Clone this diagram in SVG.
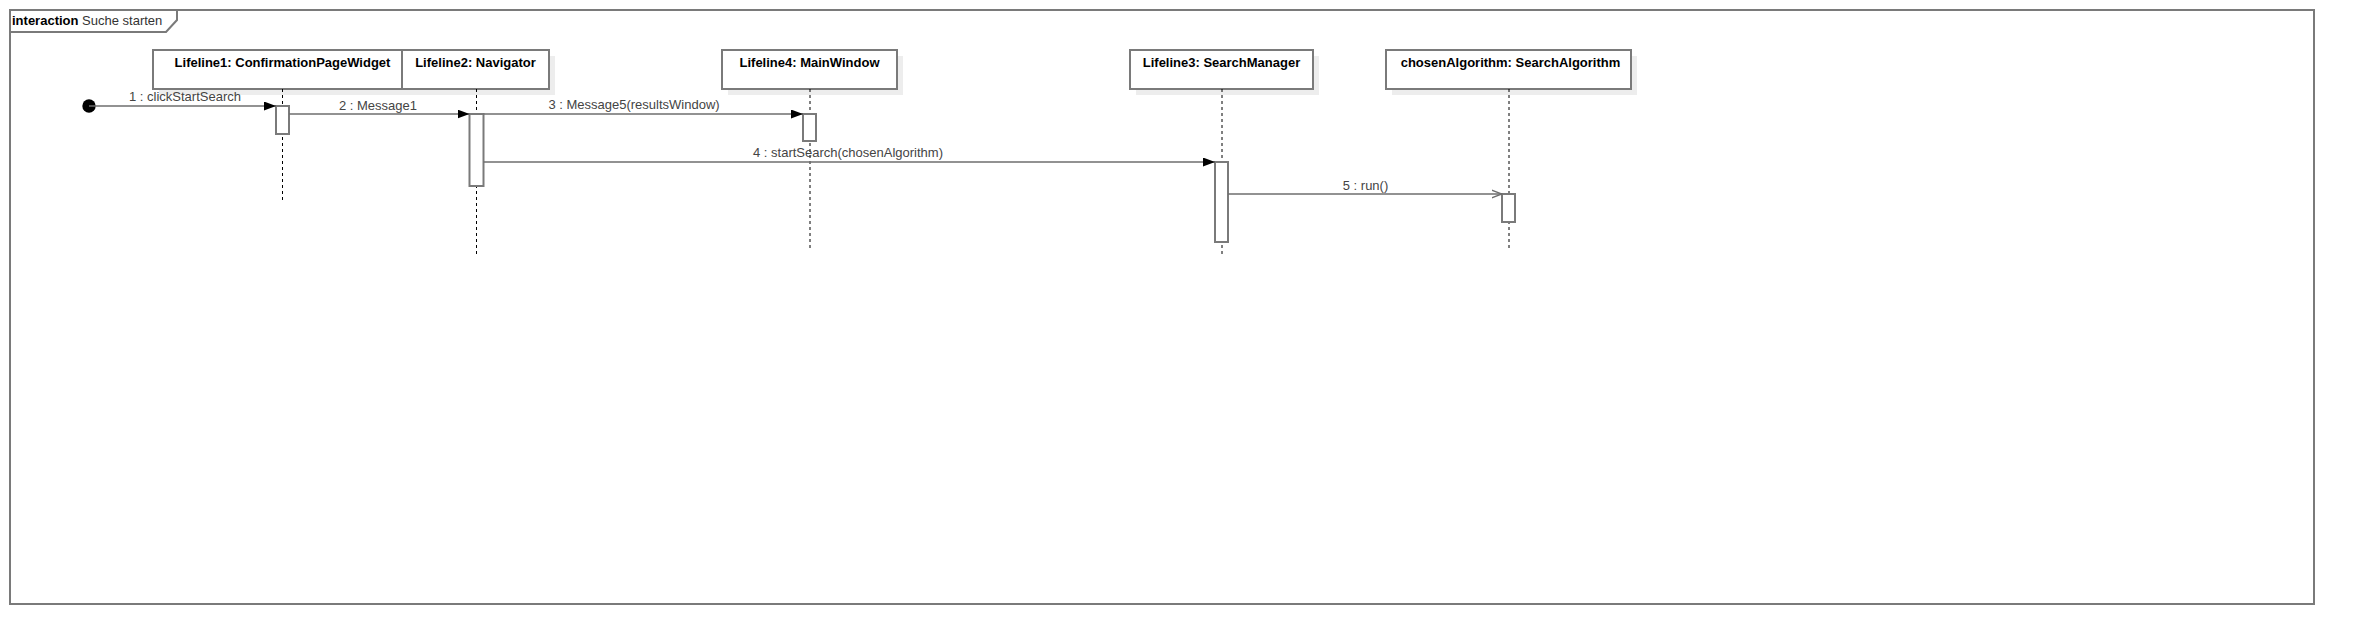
<svg xmlns="http://www.w3.org/2000/svg" width="2354" height="644" viewBox="0 0 2354 644">
<style>
text{font-family:"Liberation Sans",Arial,sans-serif;font-size:13px}
.title{font-weight:bold;fill:#000;text-anchor:middle}
.lbl{fill:#444;text-anchor:middle}
.box{fill:#fff;stroke:#7a7a7a;stroke-width:2}
.shadow{fill:#ededed}
.life{stroke:#000;stroke-width:1;stroke-dasharray:3 3;fill:none}
.act{fill:#fff;stroke:#7a7a7a;stroke-width:2}
.msg{stroke:#6e6e6e;stroke-width:1.6;fill:none}
</style>
<defs>
<marker id="filled" viewBox="0 0 12 9" refX="12" refY="4.5" markerWidth="12" markerHeight="9" markerUnits="userSpaceOnUse" orient="auto">
<path d="M0,0 L12,4.5 L0,9 Z" fill="#000"/>
</marker>
<marker id="open" viewBox="0 0 11 10" refX="10.5" refY="5" markerWidth="11" markerHeight="10" markerUnits="userSpaceOnUse" orient="auto">
<path d="M0,1 L10.5,5 L0,9" fill="none" stroke="#6e6e6e" stroke-width="1.4"/>
</marker>
</defs>
<rect width="2354" height="644" fill="#fff"/>
<g id="frame">
<rect x="10" y="10" width="2304" height="594" fill="none" stroke="#7a7a7a" stroke-width="2"/>
<path d="M10,10 L177,10 L177,20 L166,32 L10,32" fill="none" stroke="#7a7a7a" stroke-width="2"/>
<text x="12" y="25"><tspan font-weight="bold" fill="#000">interaction</tspan><tspan fill="#333"> Suche starten</tspan></text>
</g>
<g id="lifeline1">
<rect class="shadow" x="159" y="56" width="259" height="39"/>
<rect class="box" x="153" y="50" width="259" height="39"/>
<text class="title" x="282.5" y="67">Lifeline1: ConfirmationPageWidget</text>
<line class="life" x1="282.5" y1="89" x2="282.5" y2="200"/>
</g>
<g id="lifeline2">
<rect class="shadow" x="408" y="56" width="147" height="39"/>
<rect class="box" x="402" y="50" width="147" height="39"/>
<text class="title" x="475.5" y="67">Lifeline2: Navigator</text>
<line class="life" x1="476.5" y1="89" x2="476.5" y2="256"/>
</g>
<g id="lifeline4">
<rect class="shadow" x="728" y="56" width="175" height="39"/>
<rect class="box" x="722" y="50" width="175" height="39"/>
<text class="title" x="809.5" y="67">Lifeline4: MainWindow</text>
<line class="life" x1="810" y1="89" x2="810" y2="250"/>
</g>
<g id="lifeline3">
<rect class="shadow" x="1136" y="56" width="183" height="39"/>
<rect class="box" x="1130" y="50" width="183" height="39"/>
<text class="title" x="1221.5" y="67">Lifeline3: SearchManager</text>
<line class="life" x1="1222" y1="89" x2="1222" y2="256"/>
</g>
<g id="chosenAlgorithm">
<rect class="shadow" x="1392" y="56" width="245" height="39"/>
<rect class="box" x="1386" y="50" width="245" height="39"/>
<text class="title" x="1510.5" y="67">chosenAlgorithm: SearchAlgorithm</text>
<line class="life" x1="1509" y1="89" x2="1509" y2="250"/>
</g>
<g id="activations">
<rect class="act" x="276" y="106" width="13" height="28"/>
<rect class="act" x="469.5" y="114" width="14" height="72"/>
<rect class="act" x="803" y="114" width="13" height="27"/>
<rect class="act" x="1215" y="162" width="13" height="80"/>
<rect class="act" x="1502" y="194" width="13" height="28"/>
</g>
<g id="connectors">
<circle cx="89" cy="106" r="6.7" fill="#000"/>
<line class="msg" x1="89" y1="106" x2="276" y2="106" marker-end="url(#filled)"/>
<text class="lbl" x="185" y="101">1 : clickStartSearch</text>
<line class="msg" x1="289" y1="114" x2="469.5" y2="114" marker-end="url(#filled)"/>
<text class="lbl" x="378" y="110">2 : Message1</text>
<line class="msg" x1="483.5" y1="114" x2="803" y2="114" marker-end="url(#filled)"/>
<text class="lbl" x="634" y="109">3 : Message5(resultsWindow)</text>
<line class="msg" x1="483.5" y1="162" x2="1215" y2="162" marker-end="url(#filled)"/>
<text class="lbl" x="848" y="157">4 : startSearch(chosenAlgorithm)</text>
<line class="msg" x1="1228" y1="194" x2="1502" y2="194" marker-end="url(#open)"/>
<text class="lbl" x="1365.5" y="190">5 : run()</text>
</g>
</svg>
